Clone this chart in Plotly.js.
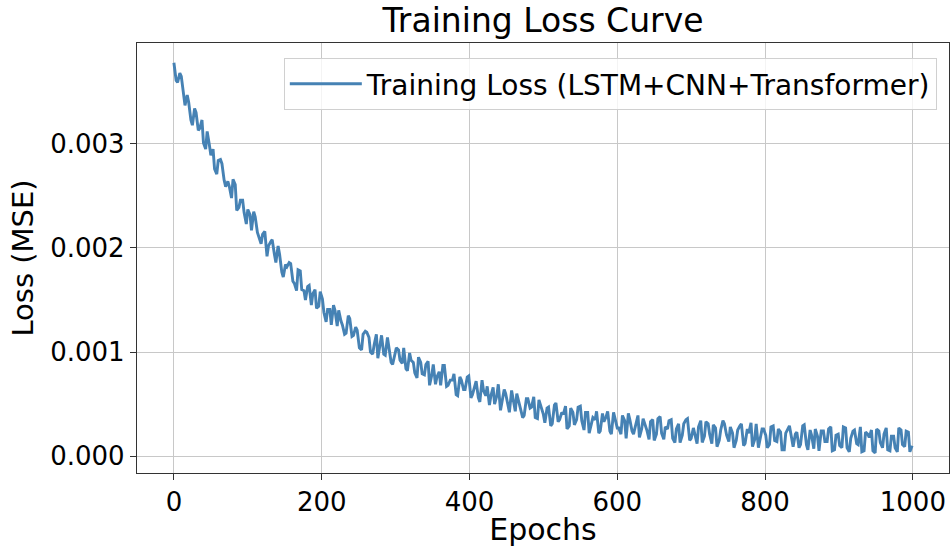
<!DOCTYPE html>
<html>
<head>
<meta charset="utf-8">
<script src="https://cdn.plot.ly/plotly-3.0.1.min.js"></script>
<style>html,body{margin:0;padding:0;background:#fff;}#chart{width:951px;height:547px;}</style>
</head>
<body>
<div id="chart"></div>
<script>
// Training loss (MSE) (about one reading per 2.5 epochs)
const lossValues = [
0.00378,0.00361,0.00359,0.00368,0.00365,0.00348,0.00337,0.00347,0.00340,0.00323,0.00318,0.00334,0.00330,0.00313,0.00315,0.00323,0.00301,0.00295,0.00312,0.00299,
0.00289,0.00295,0.00276,0.00271,0.00284,0.00285,0.00281,0.00265,0.00259,0.00264,0.00259,0.00248,0.00266,0.00261,0.00236,0.00239,0.00246,0.00246,0.00234,0.00223,
0.00237,0.00232,0.00217,0.00235,0.00230,0.00215,0.00210,0.00204,0.00213,0.00216,0.00192,0.00202,0.00206,0.00208,0.00194,0.00186,0.00202,0.00194,0.00177,0.00172,
0.00184,0.00182,0.00186,0.00185,0.00168,0.00166,0.00159,0.00179,0.00178,0.00160,0.00159,0.00150,0.00163,0.00164,0.00145,0.00156,0.00160,0.00142,0.00144,0.00158,
0.00151,0.00138,0.00129,0.00141,0.00141,0.00126,0.00145,0.00140,0.00125,0.00140,0.00130,0.00126,0.00117,0.00118,0.00135,0.00132,0.00115,0.00116,0.00124,0.00121,
0.00104,0.00102,0.00117,0.00120,0.00119,0.00114,0.00100,0.00098,0.00107,0.00117,0.00094,0.00105,0.00116,0.00098,0.00097,0.00114,0.00106,0.00090,0.00088,0.00100,
0.00104,0.00102,0.00092,0.00089,0.00104,0.00084,0.00082,0.00099,0.00092,0.00090,0.00080,0.00075,0.00095,0.00090,0.00079,0.00078,0.00088,0.00091,0.00068,0.00078,
0.00088,0.00069,0.00076,0.00081,0.00068,0.00087,0.00087,0.00067,0.00068,0.00073,0.00073,0.00079,0.00059,0.00058,0.00076,0.00073,0.00064,0.00064,0.00076,0.00077,
0.00056,0.00059,0.00068,0.00072,0.00056,0.00052,0.00073,0.00063,0.00058,0.00067,0.00049,0.00058,0.00066,0.00050,0.00058,0.00069,0.00044,0.00052,0.00064,0.00060,
0.00048,0.00042,0.00063,0.00055,0.00043,0.00060,0.00052,0.00044,0.00037,0.00039,0.00055,0.00055,0.00046,0.00047,0.00057,0.00037,0.00036,0.00054,0.00047,0.00040,
0.00032,0.00046,0.00047,0.00029,0.00031,0.00049,0.00051,0.00033,0.00035,0.00042,0.00040,0.00048,0.00026,0.00029,0.00046,0.00042,0.00030,0.00035,0.00047,0.00048,
0.00034,0.00025,0.00042,0.00042,0.00022,0.00030,0.00037,0.00035,0.00043,0.00022,0.00024,0.00041,0.00033,0.00038,0.00043,0.00024,0.00021,0.00042,0.00035,0.00027,
0.00027,0.00021,0.00039,0.00034,0.00017,0.00041,0.00035,0.00024,0.00021,0.00029,0.00039,0.00018,0.00026,0.00036,0.00030,0.00025,0.00016,0.00033,0.00035,0.00015,
0.00021,0.00036,0.00038,0.00022,0.00016,0.00028,0.00026,0.00034,0.00035,0.00017,0.00013,0.00026,0.00031,0.00013,0.00020,0.00031,0.00035,0.00036,0.00015,0.00017,
0.00027,0.00021,0.00012,0.00028,0.00034,0.00013,0.00019,0.00033,0.00031,0.00021,0.00012,0.00030,0.00027,0.00009,0.00015,0.00025,0.00034,0.00031,0.00020,0.00014,
0.00028,0.00022,0.00008,0.00015,0.00025,0.00029,0.00031,0.00010,0.00012,0.00026,0.00022,0.00032,0.00009,0.00016,0.00031,0.00008,0.00014,0.00026,0.00026,0.00020,
0.00008,0.00011,0.00028,0.00029,0.00015,0.00014,0.00026,0.00023,0.00006,0.00006,0.00022,0.00027,0.00029,0.00017,0.00009,0.00021,0.00023,0.00008,0.00011,0.00029,
0.00030,0.00011,0.00006,0.00025,0.00020,0.00007,0.00026,0.00019,0.00005,0.00024,0.00024,0.00014,0.00014,0.00026,0.00028,0.00005,0.00006,0.00020,0.00021,0.00010,
0.00008,0.00028,0.00027,0.00008,0.00004,0.00017,0.00024,0.00025,0.00012,0.00011,0.00028,0.00004,0.00005,0.00023,0.00021,0.00018,0.00025,0.00005,0.00003,0.00026,
0.00024,0.00013,0.00008,0.00021,0.00027,0.00006,0.00005,0.00019,0.00019,0.00008,0.00004,0.00027,0.00025,0.00011,0.00009,0.00024,0.00023,0.00004,
0.00010
];
const lastEpoch = 999;
const epochs = lossValues.map((_, i) => Math.round(i * lastEpoch / (lossValues.length - 1)));

const seriesName = 'Training Loss (LSTM+CNN+Transformer)';
const chartTitle = 'Training Loss Curve';
const xLabel = 'Epochs';
const yLabel = 'Loss (MSE)';
const xTicks = [0, 200, 400, 600, 800, 1000];
const yTicks = [0, 0.001, 0.002, 0.003];

const font = 'DejaVu Sans, Liberation Sans, sans-serif';

const trace = {
  x: epochs, y: lossValues, type: 'scatter', mode: 'lines',
  name: seriesName,
  line: {color: '#4682b4', width: 2.9}
};

const axisCommon = {
  showline: true, mirror: true, linecolor: '#333', linewidth: 1.2,
  ticks: 'outside', ticklen: 6, tickcolor: '#333', tickwidth: 1,
  showgrid: true, gridcolor: '#c8c8c8', gridwidth: 1,
  zeroline: false,
  tickfont: {family: font, size: 26, color: '#000'}
};

const layout = {
  width: 951, height: 547,
  margin: {l: 137, r: 2, t: 43, b: 74},
  paper_bgcolor: '#fff', plot_bgcolor: '#fff',
  title: {text: chartTitle, font: {family: font, size: 33, color: '#000'},
          x: 0.5, xref: 'paper', xanchor: 'center', y: 0.962, yref: 'container', yanchor: 'middle'},
  xaxis: Object.assign({}, axisCommon, {
    range: [-49.95, 1048.95], tickvals: xTicks, ticktext: xTicks.map(String),
    title: {text: xLabel, font: {family: font, size: 30, color: '#000'}, standoff: 4}
  }),
  yaxis: Object.assign({}, axisCommon, {
    range: [-0.000163, 0.00397], tickvals: yTicks, ticktext: yTicks.map(v => v.toFixed(3)),
    title: {text: yLabel, font: {family: font, size: 29, color: '#000'}, standoff: 8}
  }),
  showlegend: true,
  legend: {x: 0.985, xanchor: 'right', y: 0.965, yanchor: 'top', itemwidth: 72,
           bgcolor: 'rgba(255,255,255,0.8)', bordercolor: '#d0d0d0', borderwidth: 1,
           font: {family: font, size: 28, color: '#000'}}
};

Plotly.newPlot('chart', [trace], layout, {displayModeBar: false, staticPlot: true});
</script>
</body>
</html>
